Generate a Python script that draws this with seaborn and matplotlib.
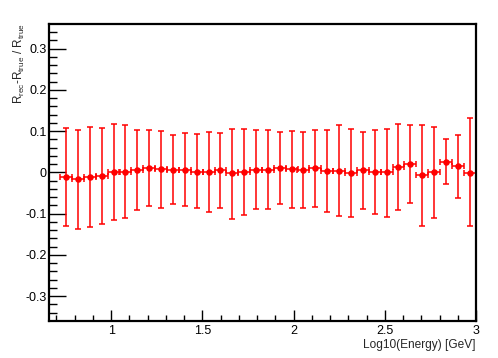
import numpy as np
import pandas as pd
import seaborn as sns
import matplotlib.pyplot as plt

# bin centres in log10(E/GeV) and bin half-width
energy = [0.753, 0.818, 0.883, 0.948, 1.013, 1.078, 1.143, 1.208, 1.273, 1.338,
          1.403, 1.468, 1.534, 1.599, 1.664, 1.729, 1.794, 1.859, 1.924, 1.989,
          2.054, 2.119, 2.184, 2.249, 2.314, 2.379, 2.445, 2.510, 2.575, 2.640,
          2.705, 2.770, 2.835, 2.900, 2.965]
half_width = 0.0326

# (R_rec - R_true) / R_true
resolution = [-0.011, -0.017, -0.011, -0.009, 0.001, 0.001, 0.006, 0.010, 0.008, 0.006,
              0.006, 0.002, 0.001, 0.005, -0.002, 0.002, 0.006, 0.007, 0.010, 0.008,
              0.006, 0.010, 0.003, 0.003, -0.001, 0.005, 0.002, 0.000, 0.014, 0.021,
              -0.006, 0.000, 0.026, 0.015, -0.001]
err_top = [0.108, 0.104, 0.110, 0.108, 0.118, 0.114, 0.102, 0.102, 0.100, 0.092,
           0.096, 0.094, 0.098, 0.096, 0.106, 0.106, 0.104, 0.104, 0.097, 0.100,
           0.098, 0.104, 0.102, 0.114, 0.106, 0.098, 0.104, 0.106, 0.118, 0.116,
           0.116, 0.110, 0.082, 0.092, 0.131]
err_bottom = [-0.130, -0.138, -0.133, -0.126, -0.116, -0.111, -0.092, -0.082, -0.085, -0.077,
              -0.082, -0.087, -0.097, -0.086, -0.112, -0.102, -0.088, -0.088, -0.076, -0.085,
              -0.087, -0.084, -0.097, -0.106, -0.109, -0.088, -0.100, -0.109, -0.090, -0.074,
              -0.129, -0.111, -0.029, -0.062, -0.130]

df = pd.DataFrame({'energy': energy, 'res': resolution, 'hi': err_top, 'lo': err_bottom})

sns.set_theme(style='white')
plt.rcParams['font.family'] = ['Liberation Sans', 'DejaVu Sans']
plt.rcParams['mathtext.fontset'] = 'custom'
plt.rcParams['mathtext.rm'] = 'Liberation Sans'
plt.rcParams['mathtext.it'] = 'Liberation Sans'

fig = plt.figure(figsize=(4.98, 3.58), dpi=100)
ax = fig.add_axes([0.0984, 0.1034, 0.8574, 0.8296])

red = '#ff0000'
ax.errorbar(df['energy'], df['res'],
            yerr=[df['res'] - df['lo'], df['hi'] - df['res']],
            xerr=half_width, fmt='none', ecolor=red, elinewidth=1.1,
            capsize=2, capthick=1.1)
sns.scatterplot(data=df, x='energy', y='res', ax=ax, color=red, s=22,
                edgecolor=red, linewidth=0, zorder=3)

ax.set_xlim(0.659, 3.0)
ax.set_ylim(-0.36, 0.36)
ax.set_xticks([1, 1.5, 2, 2.5, 3])
ax.set_xticklabels(['1', '1.5', '2', '2.5', '3'])
ax.set_xticks(np.arange(0.7, 3.0, 0.1), minor=True)
ax.set_yticks([-0.3, -0.2, -0.1, 0, 0.1, 0.2, 0.3])
ax.set_yticklabels(['-0.3', '-0.2', '-0.1', '0', '0.1', '0.2', '0.3'])
ax.set_yticks(np.arange(-0.34, 0.35, 0.02), minor=True)

ax.tick_params(axis='both', which='both', direction='in', colors='black',
               labelsize=9, top=False, right=False, left=True, bottom=True)
ax.tick_params(axis='y', which='major', length=12, width=1, pad=1.5)
ax.tick_params(axis='y', which='minor', length=6, width=1)
ax.tick_params(axis='x', which='major', length=8, width=1, pad=3)
ax.tick_params(axis='x', which='minor', length=4, width=1)

for sp in ax.spines.values():
    sp.set_color('black')
    sp.set_linewidth(1.6)

ax.set_xlabel('Log10(Energy) [GeV]', loc='right', fontsize=8.6, labelpad=1)
ax.set_ylabel('')
fig.text(19 / 498, 1 - 23 / 358,
         r'R$_{\mathrm{rec}}$-R$_{\mathrm{true}}$ / R$_{\mathrm{true}}$',
         rotation=90, ha='center', va='top', fontsize=8.4)

fig.savefig('out.png', dpi=100)
